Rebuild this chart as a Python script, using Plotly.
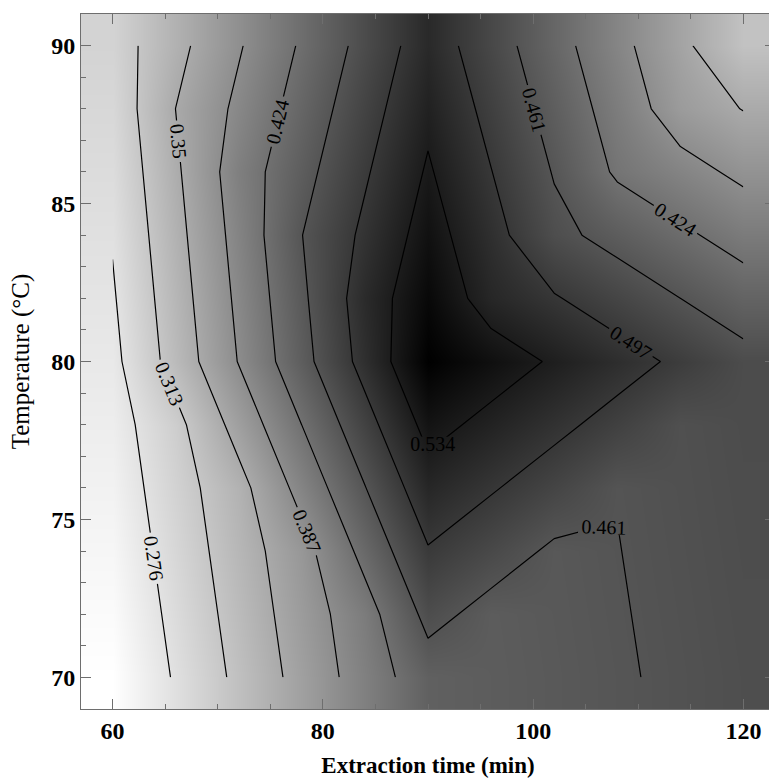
import plotly.graph_objects as go

extraction_time = [60, 66, 72, 78, 84, 90, 96, 102, 108, 114, 120]   # min
temperature = [70, 72, 74, 76, 78, 80, 82, 84, 86, 88, 90]           # °C

row_70 = [0.2380, 0.2794, 0.3208, 0.3622, 0.4036, 0.4450, 0.4496, 0.4542, 0.4588, 0.4634, 0.4680]
row_72 = [0.2438, 0.2852, 0.3266, 0.3680, 0.4094, 0.4700, 0.4503, 0.4549, 0.4595, 0.4641, 0.4687]
row_74 = [0.2496, 0.2910, 0.3324, 0.3738, 0.4344, 0.4950, 0.4753, 0.4556, 0.4602, 0.4648, 0.4694]
row_76 = [0.2554, 0.2968, 0.3382, 0.3988, 0.4594, 0.5200, 0.5003, 0.4806, 0.4609, 0.4655, 0.4701]
row_78 = [0.2612, 0.3026, 0.3632, 0.4238, 0.4844, 0.5450, 0.5253, 0.5056, 0.4859, 0.4662, 0.4708]
row_80 = [0.2670, 0.3276, 0.3882, 0.4488, 0.5094, 0.5700, 0.5503, 0.5306, 0.5109, 0.4912, 0.4715]
row_82 = [0.2726, 0.3332, 0.3938, 0.4544, 0.5150, 0.5593, 0.5196, 0.4999, 0.4802, 0.4605, 0.4408]
row_84 = [0.2782, 0.3388, 0.3994, 0.4600, 0.5043, 0.5486, 0.5089, 0.4692, 0.4495, 0.4298, 0.4101]
row_86 = [0.2838, 0.3444, 0.4050, 0.4493, 0.4936, 0.5379, 0.4982, 0.4585, 0.4188, 0.3991, 0.3794]
row_88 = [0.2894, 0.3500, 0.3943, 0.4386, 0.4829, 0.5272, 0.4875, 0.4478, 0.4081, 0.3684, 0.3487]
row_90 = [0.2950, 0.3393, 0.3836, 0.4279, 0.4722, 0.5165, 0.4768, 0.4371, 0.3974, 0.3577, 0.3180]

z_values = [row_70, row_72, row_74, row_76, row_78, row_80,
            row_82, row_84, row_86, row_88, row_90]

# Contour levels (labels 0.276 ... 0.534)
level_start = 0.27605
level_step = 0.036895
level_end = 0.5345

x_title = "Extraction time (min)"
y_title = "Temperature (°C)"

SERIF = "Liberation Serif, Times New Roman, serif"
FRAME = "#6e6e6e"

fig = go.Figure()

fig.add_trace(go.Heatmap(
    x=extraction_time, y=temperature, z=z_values,
    colorscale=[[0, "#ffffff"], [1, "#000000"]],
    zsmooth="best", showscale=False, hoverinfo="skip",
))

fig.add_trace(go.Contour(
    x=extraction_time, y=temperature, z=z_values,
    autocontour=False,
    contours=dict(start=level_start, end=level_end, size=level_step,
                  coloring="none", showlabels=True,
                  labelfont=dict(family=SERIF, size=20, color="black"),
                  labelformat=".3~f"),
    line=dict(color="black", width=1.2, smoothing=0),
    showscale=False, hoverinfo="skip",
))

# Plot frame runs slightly past the right edge of the window, as in the reference.
fig.update_layout(
    width=775, height=778,
    margin=dict(l=81, r=0, t=14, b=69),
    paper_bgcolor="white", plot_bgcolor="white",
    showlegend=False,
)

fig.update_xaxes(
    range=[57, 123], tick0=60, dtick=20,
    ticks="inside", ticklen=10, tickwidth=1, tickcolor=FRAME,
    showline=True, linecolor=FRAME, linewidth=1, mirror="ticks",
    showgrid=False, zeroline=False,
    minor=dict(tick0=60, dtick=5, ticks="inside", ticklen=5, tickcolor=FRAME, showgrid=False),
    tickfont=dict(family=SERIF, size=24, color="black", weight="bold"),
    title=dict(text=x_title, font=dict(family=SERIF, size=23, color="black", weight="bold"), standoff=14),
)

fig.update_yaxes(
    range=[69, 91], tick0=70, dtick=5,
    ticks="inside", ticklen=10, tickwidth=1, tickcolor=FRAME,
    showline=True, linecolor=FRAME, linewidth=1, mirror="ticks",
    showgrid=False, zeroline=False,
    minor=dict(tick0=70, dtick=1, ticks="inside", ticklen=5, tickcolor=FRAME, showgrid=False),
    tickfont=dict(family=SERIF, size=24, color="black", weight="bold"),
    title=dict(text=y_title, font=dict(family=SERIF, size=25, color="black"), standoff=14),
)

fig.write_html(
    "out.html",
    config={"displayModeBar": False},
    post_script="document.body.style.margin='0';document.body.style.overflow='hidden';"
                "document.documentElement.style.overflow='hidden';",
)
